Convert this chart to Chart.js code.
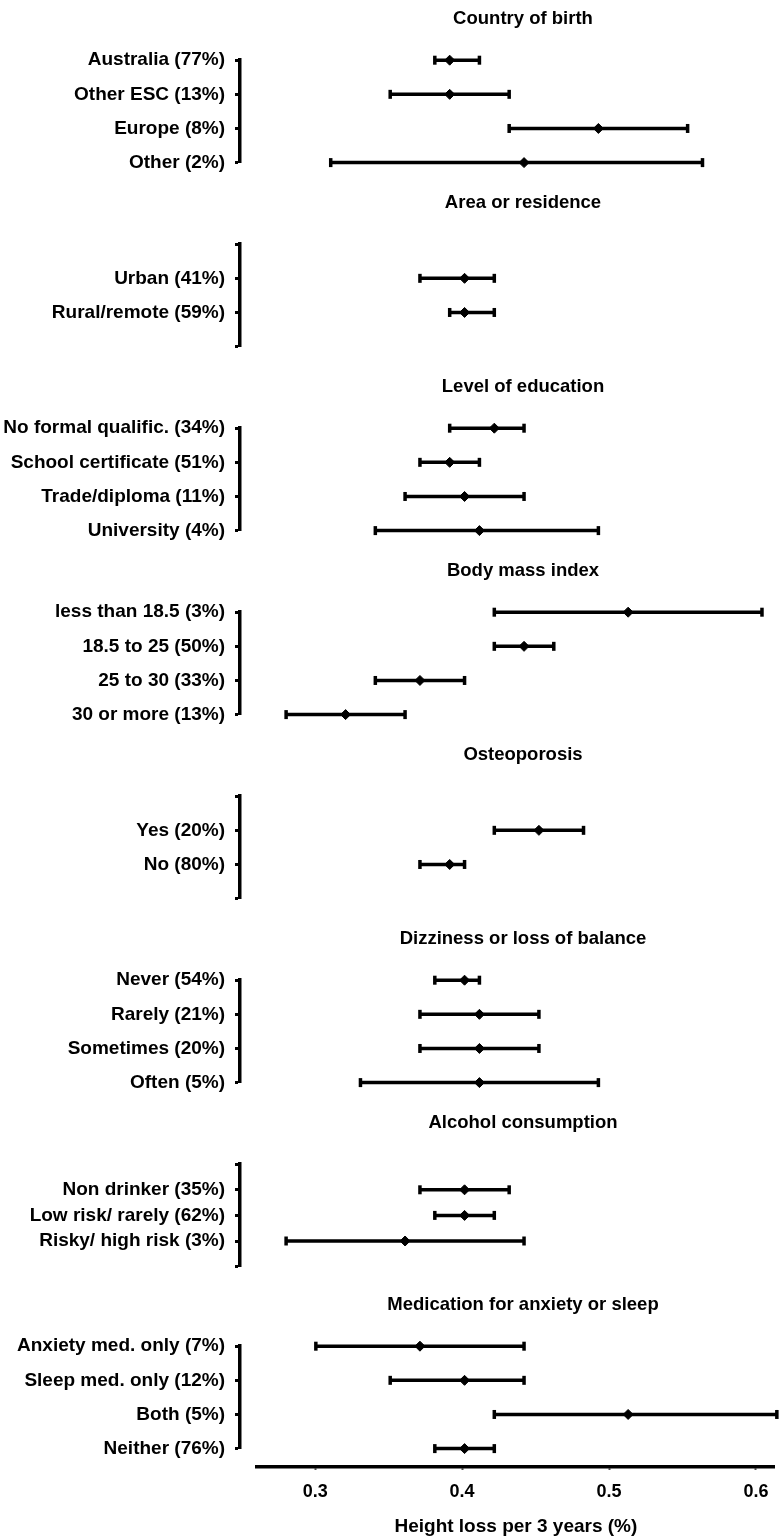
<!DOCTYPE html>
<html>
<head>
<meta charset="utf-8">
<script src="https://cdn.jsdelivr.net/npm/chart.js@4"></script>
<style>
  body { margin: 0; background: #fff; }
  #wrap { position: relative; width: 781px; height: 1538px; overflow: hidden; }
  canvas { position: absolute; left: 0; }
</style>
</head>
<body>
<div id="wrap"></div>
<script>
// panel titles
const panelTitles = ['Country of birth', 'Area or residence', 'Level of education', 'Body mass index',
  'Osteoporosis', 'Dizziness or loss of balance', 'Alcohol consumption', 'Medication for anxiety or sleep'];

// data, one group of arrays per panel (mean, lower and upper CI)
const birthLabels = ['Australia (77%)', 'Other ESC (13%)', 'Europe (8%)', 'Other (2%)'];
const birthMean = [0.39, 0.39, 0.49, 0.44];
const birthLow = [0.38, 0.35, 0.43, 0.31];
const birthHigh = [0.41, 0.43, 0.55, 0.56];

const areaLabels = ['Urban (41%)', 'Rural/remote (59%)'];
const areaMean = [0.40, 0.40];
const areaLow = [0.37, 0.39];
const areaHigh = [0.42, 0.42];

const eduLabels = ['No formal qualific. (34%)', 'School certificate (51%)', 'Trade/diploma (11%)', 'University (4%)'];
const eduMean = [0.42, 0.39, 0.40, 0.41];
const eduLow = [0.39, 0.37, 0.36, 0.34];
const eduHigh = [0.44, 0.41, 0.44, 0.49];

const bmiLabels = ['less than 18.5 (3%)', '18.5 to 25 (50%)', '25 to 30 (33%)', '30 or more (13%)'];
const bmiMean = [0.51, 0.44, 0.37, 0.32];
const bmiLow = [0.42, 0.42, 0.34, 0.28];
const bmiHigh = [0.60, 0.46, 0.40, 0.36];

const osteoLabels = ['Yes (20%)', 'No (80%)'];
const osteoMean = [0.45, 0.39];
const osteoLow = [0.42, 0.37];
const osteoHigh = [0.48, 0.40];

const dizzyLabels = ['Never (54%)', 'Rarely (21%)', 'Sometimes (20%)', 'Often (5%)'];
const dizzyMean = [0.40, 0.41, 0.41, 0.41];
const dizzyLow = [0.38, 0.37, 0.37, 0.33];
const dizzyHigh = [0.41, 0.45, 0.45, 0.49];

const alcoLabels = ['Non drinker (35%)', 'Low risk/ rarely (62%)', 'Risky/ high risk (3%)'];
const alcoMean = [0.40, 0.40, 0.36];
const alcoLow = [0.37, 0.38, 0.28];
const alcoHigh = [0.43, 0.42, 0.44];

const medLabels = ['Anxiety med. only (7%)', 'Sleep med. only (12%)', 'Both (5%)', 'Neither (76%)'];
const medMean = [0.37, 0.40, 0.51, 0.40];
const medLow = [0.30, 0.35, 0.42, 0.38];
const medHigh = [0.44, 0.44, 0.61, 0.42];

const xTicks = [0.3, 0.4, 0.5, 0.6];
const xTitle = 'Height loss per 3 years (%)';

const groups = [
  [birthLabels, birthMean, birthLow, birthHigh],
  [areaLabels, areaMean, areaLow, areaHigh],
  [eduLabels, eduMean, eduLow, eduHigh],
  [bmiLabels, bmiMean, bmiLow, bmiHigh],
  [osteoLabels, osteoMean, osteoLow, osteoHigh],
  [dizzyLabels, dizzyMean, dizzyLow, dizzyHigh],
  [alcoLabels, alcoMean, alcoLow, alcoHigh],
  [medLabels, medMean, medLow, medHigh]
];

const FONT = "'Liberation Sans', Arial, sans-serif";
Chart.defaults.font.family = FONT;
Chart.defaults.color = '#000';

const W = 781, PANEL_H = 184, Y_AXIS_W = 240;
// the plot area runs a little past the right edge of the page (canvas is clipped by #wrap)
const PLOT_RIGHT = 806;
const X_MIN = 0.249, X_MAX = 0.6296;
const wrap = document.getElementById('wrap');

function addCanvas(top, w, h) {
  const c = document.createElement('canvas');
  c.width = w; c.height = h;
  c.style.top = top + 'px';
  wrap.appendChild(c);
  return c;
}

groups.forEach(([labels, mean, low, high], k) => {
  const n = labels.length;
  // 4 rows fill the bracket; shorter groups sit inside an empty slot on each side
  const slots = n === 4 ? 3 : n + 1;
  const pos = i => (n === 4 ? i : i + 1);
  const tickText = {};
  labels.forEach((l, i) => { tickText[pos(i)] = l; });

  const datasets = [{
    type: 'scatter',
    data: mean.map((m, i) => ({ x: m, y: pos(i) })),
    pointStyle: 'rectRot',
    pointRadius: 5,
    pointBackgroundColor: '#000',
    pointBorderColor: '#000',
    pointBorderWidth: 1,
    order: 0,
    clip: false
  }];
  labels.forEach((l, i) => {
    datasets.push({
      type: 'line',
      data: [{ x: low[i], y: pos(i) }, { x: high[i], y: pos(i) }],
      borderColor: '#000',
      borderWidth: 3.5,
      pointStyle: 'line',
      rotation: 90,
      pointRadius: 4.5,
      pointBorderWidth: 3.5,
      pointBorderColor: '#000',
      order: 1,
      clip: false
    });
  });

  const top = k === 7 ? 1286 : k * PANEL_H;
  new Chart(addCanvas(top, PLOT_RIGHT, PANEL_H), {
    data: { datasets },
    options: {
      responsive: false,
      animation: false,
      events: [],
      layout: { autoPadding: false, padding: { left: 0, right: 0, top: 0, bottom: 15 } },
      plugins: {
        legend: { display: false },
        tooltip: { enabled: false },
        title: {
          display: true,
          fullSize: false,
          text: panelTitles[k],
          color: '#000',
          font: { size: 18.5, weight: 'bold', lineHeight: 1.2 },
          padding: { top: 7.5, bottom: 30.5 }
        }
      },
      scales: {
        x: { type: 'linear', display: false, min: X_MIN, max: X_MAX },
        y: {
          type: 'linear',
          reverse: true,
          min: 0,
          max: slots,
          afterBuildTicks: s => {
            s.ticks = [];
            for (let v = 0; v <= slots; v++) s.ticks.push({ value: v });
          },
          afterFit: s => { s.width = Y_AXIS_W; },
          border: { display: true, color: '#000', width: 3.5 },
          grid: { drawOnChartArea: false, drawTicks: true, tickLength: 5, tickWidth: 3, tickColor: '#000' },
          ticks: {
            color: '#000',
            padding: 10,
            autoSkip: false,
            font: { size: 19, weight: 'bold' },
            callback: v => tickText[v] || ''
          }
        }
      }
    }
  });
});

// shared x axis, starting a little apart from the bracket
const AXIS_H = 160, AXIS_TOP = 1538 - AXIS_H, AXIS_LEFT = 257;
const pxToVal = px => X_MIN + (px - Y_AXIS_W) / (PLOT_RIGHT - Y_AXIS_W) * (X_MAX - X_MIN);
new Chart(addCanvas(AXIS_TOP, W, AXIS_H), {
  type: 'scatter',
  data: { datasets: [] },
  options: {
    responsive: false,
    animation: false,
    events: [],
    layout: { autoPadding: false, padding: { left: AXIS_LEFT, right: 0, top: 0, bottom: 0 } },
    plugins: { legend: { display: false }, tooltip: { enabled: false } },
    scales: {
      x: {
        type: 'linear',
        min: pxToVal(AXIS_LEFT),
        max: pxToVal(W),
        afterBuildTicks: s => { s.ticks = xTicks.map(v => ({ value: v })); },
        border: { display: true, color: '#000', width: 3.5 },
        grid: { drawOnChartArea: false, drawTicks: true, tickLength: 3, tickWidth: 2, tickColor: '#000' },
        ticks: {
          color: '#000',
          padding: 12.5,
          font: { size: 18, weight: 'bold', lineHeight: 1.1 },
          callback: v => v.toFixed(1)
        },
        title: {
          display: true,
          text: xTitle,
          color: '#000',
          font: { size: 19, weight: 'bold', lineHeight: 1.2 },
          padding: { top: 0.7, bottom: 0 }
        }
      },
      y: { display: false, min: 0, max: 1 }
    }
  }
});
</script>
</body>
</html>
